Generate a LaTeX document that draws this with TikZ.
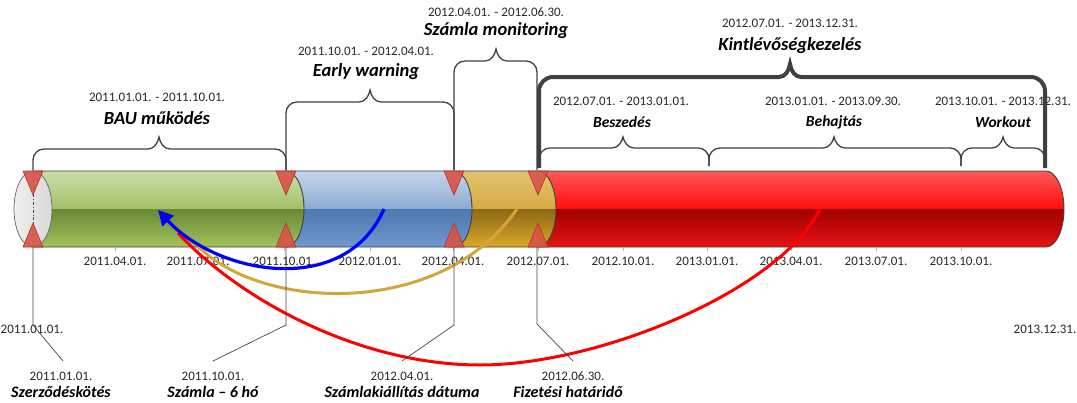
\documentclass[tikz,border=0pt]{standalone}
\usepackage{fontspec}
\setmainfont{Carlito}
\usetikzlibrary{arrows.meta}
\definecolor{segline}{RGB}{64,64,64}
\definecolor{braceclr}{RGB}{64,64,64}
\definecolor{leadc}{RGB}{70,70,70}
\definecolor{datec}{RGB}{40,40,40}
\definecolor{mkfill}{RGB}{214,84,72}
\definecolor{mkline}{RGB}{190,50,40}
\definecolor{gT1}{RGB}{205,222,172}
\definecolor{gT2}{RGB}{163,192,104}
\definecolor{gB1}{RGB}{105,136,54}
\definecolor{gB2}{RGB}{162,196,92}
\definecolor{bT1}{RGB}{200,214,232}
\definecolor{bT2}{RGB}{140,170,210}
\definecolor{bB1}{RGB}{76,120,175}
\definecolor{bB2}{RGB}{112,154,206}
\definecolor{oT1}{RGB}{226,196,112}
\definecolor{oT2}{RGB}{214,170,70}
\definecolor{oB1}{RGB}{140,104,24}
\definecolor{oB2}{RGB}{220,170,40}
\definecolor{rT1}{RGB}{255,90,90}
\definecolor{rT2}{RGB}{255,14,14}
\definecolor{rB1}{RGB}{160,0,0}
\definecolor{rB2}{RGB}{232,20,20}
\definecolor{goldc}{RGB}{212,166,58}
\newcommand\cylseg[6]{%
  \begin{scope}
    \clip (#1,-171) -- (#2,-171) arc[start angle=90,end angle=-90,x radius=18,y radius=38] -- (#1,-247) -- cycle;
    \shade[top color=#3, bottom color=#4] (#1-2,-170) rectangle (#2+20,-209);
    \shade[top color=#5, bottom color=#6] (#1-2,-209) rectangle (#2+20,-248);
  \end{scope}
  \draw[seg] (#1,-171) -- (#2,-171) arc[start angle=90,end angle=-90,x radius=18,y radius=38] -- (#1,-247);
}
\newcommand\brc[8]{%
  \draw[#1] (#2,-#7) -- (#2,-#5-#8) arc[start angle=180,end angle=90,radius=#8]
    -- (#4-11,-#5) .. controls (#4-5,-#5) and (#4-1,-#5+6) .. (#4,-#6)
    .. controls (#4+1,-#5+6) and (#4+5,-#5) .. (#4+11,-#5)
    -- (#3-#8,-#5) arc[start angle=90,end angle=0,radius=#8] -- (#3,-#7);
}
\begin{document}
\begin{tikzpicture}[x=1pt,y=1pt,
  seg/.style={draw=segline, line width=0.9pt},
  marker/.style={fill=mkfill, draw=mkline, line width=0.6pt, fill opacity=0.9},
  brace/.style={draw=braceclr, line width=1.3pt},
  bigbrace/.style={draw=braceclr, line width=4pt},
  datelbl/.style={font=\fontsize{13}{15}\selectfont, text=datec, inner sep=0pt},
  mainlbl/.style={font=\fontsize{18.5}{22}\selectfont\bfseries\itshape, inner sep=0pt},
  sublbl/.style={font=\fontsize{15.5}{18}\selectfont\bfseries\itshape, inner sep=0pt},
  lowlbl/.style={font=\fontsize{16}{19}\selectfont\bfseries\itshape, inner sep=0pt},
  leader/.style={draw=leadc, line width=0.7pt},
  tickm/.style={draw=gray!60, line width=0.6pt},
  bluearrow/.style={draw=blue, line width=3.2pt, -{Triangle[length=15pt,width=15pt]}},
  goldline/.style={draw=goldc, line width=3pt},
  redline/.style={draw=red, line width=3pt},
]
\useasboundingbox (0,0) rectangle (1077,-402);
% cylinder
\cylseg{538}{1046}{rT1}{rT2}{rB1}{rB2}
\cylseg{454}{538}{oT1}{oT2}{oB1}{oB2}
\cylseg{286}{454}{bT1}{bT2}{bB1}{bB2}
\cylseg{33}{286}{gT1}{gT2}{gB1}{gB2}
\shade[left color=gray!12, middle color=white, right color=gray!30, draw=gray!80!black, line width=0.7pt]
  (33,-209) ellipse[x radius=19, y radius=38];
\draw[leadc, line width=0.7pt, dash dot] (33,-171) -- (33,-247);
% markers
\foreach \x in {33,286,454,538}{
  \path[marker] (\x-10,-171) -- (\x+10,-171) -- (\x,-195) -- cycle;
  \path[marker] (\x-10,-247) -- (\x+10,-247) -- (\x,-223) -- cycle;
}
% axis ticks and labels
\foreach \x/\t [count=\i] in {115/2011.04.01., 198/2011.07.01., 284/2011.10.01., 370/2012.01.01., 453/2012.04.01., 538/2012.07.01., 623/2012.10.01., 707/2013.01.01., 791/2013.04.01., 876/2013.07.01., 961/2013.10.01.}{
  \draw[tickm] (\x,-248) -- (\x,-251);
  \node[datelbl] (ax\i) at (\x,-261) {\t};
}
\node[datelbl] (startD) at (32,-329) {2011.01.01.};
\node[datelbl] (endD) at (1045,-329) {2013.12.31.};
% arrows
\coordinate (rS) at (820,-209); \coordinate (rM) at (480,-365); \coordinate (rE) at (178,-233);
\draw[redline] (rS) .. controls (780,-290) and (600,-365) .. (rM) .. controls (360,-365) and (240,-300) .. (rE);
\coordinate (gS) at (517,-209); \coordinate (gE) at (198,-246);
\draw[goldline] (gS) .. controls (440,-320) and (260,-310) .. (gE);
\coordinate (bS) at (384,-209); \coordinate (bE) at (158,-210);
\draw[bluearrow] (bS) .. controls (345,-298) and (218,-275) .. (bE);
% leaders and lower labels
\node[datelbl] (d1) at (61,-376) {2011.01.01.};
\node[lowlbl] (l1) at (61,-392) {Szerződéskötés};
\node[datelbl] (d2) at (213,-376) {2011.10.01.};
\node[lowlbl] (l2) at (213,-392) {Számla – 6 hó};
\node[datelbl] (d3) at (402,-376) {2012.04.01.};
\node[lowlbl] (l3) at (402,-392) {Számlakiállítás dátuma};
\node[datelbl] (d4) at (573,-376) {2012.06.30.};
\node[lowlbl] (l4) at (568,-392) {Fizetési határidő};
\coordinate (m1) at (33,-247); \coordinate (k1) at (33,-325); \coordinate (e1) at (63,-361);
\coordinate (m2) at (286,-247); \coordinate (k2) at (286,-325); \coordinate (e2) at (213,-361);
\coordinate (m3) at (454,-247); \coordinate (k3) at (454,-325); \coordinate (e3) at (402,-361);
\coordinate (m4) at (537,-247); \coordinate (k4) at (537,-324); \coordinate (e4) at (573,-361);
\foreach \i in {1,2,3,4}{ \draw[leader] (m\i) -- (k\i) -- (e\i); }
% upper labels
\node[datelbl] (bauD) at (157,-97) {2011.01.01. - 2011.10.01.};
\node[mainlbl] (bauL) at (157,-118) {BAU működés};
\node[datelbl] (ewD) at (366,-51) {2011.10.01. - 2012.04.01.};
\node[mainlbl] (ewL) at (366,-72) {Early warning};
\node[datelbl] (smD) at (496,-12) {2012.04.01. - 2012.06.30.};
\node[mainlbl] (smL) at (496,-31) {Számla monitoring};
\node[datelbl] (kkD) at (790,-23) {2012.07.01. - 2013.12.31.};
\node[mainlbl] (kkL) at (790,-46) {Kintlévőségkezelés};
\node[datelbl] (bsD) at (621,-101) {2012.07.01. - 2013.01.01.};
\node[sublbl] (bsL) at (622,-122) {Beszedés};
\node[datelbl] (bhD) at (833,-101) {2013.01.01. - 2013.09.30.};
\node[sublbl] (bhL) at (834,-122) {Behajtás};
\node[datelbl] (woD) at (1003,-101) {2013.10.01. - 2013.12.31.};
\node[sublbl] (woL) at (1003,-122) {Workout};
% braces
\brc{brace}{33}{286}{159}{149}{137}{170}{11}
\brc{brace}{286}{454}{370}{102}{90}{170}{11}
\brc{brace}{454}{537}{496}{61}{49}{170}{11}
\brc{brace}{539}{709}{623}{148}{137}{166}{11}
\brc{brace}{709}{961}{834}{148}{137}{166}{11}
\brc{brace}{961}{1045}{1003}{148}{137}{166}{11}
\brc{bigbrace}{539}{1045}{790}{77}{64}{168}{14}
\end{tikzpicture}
\end{document}
